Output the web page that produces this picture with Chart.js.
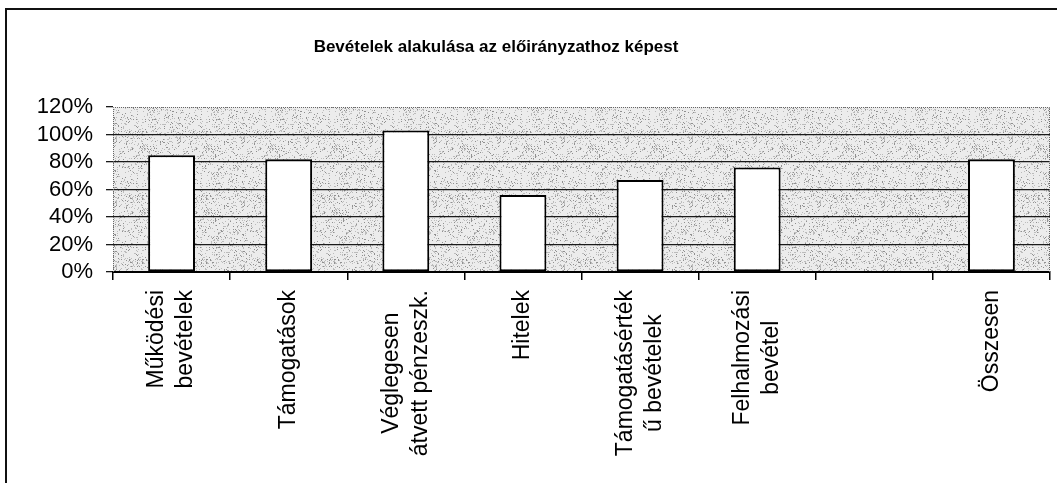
<!DOCTYPE html>
<html>
<head>
<meta charset="utf-8">
<script src="https://cdn.jsdelivr.net/npm/chart.js@4"></script>
<style>
  html, body { margin: 0; padding: 0; background: #fff; }
  #wrap { width: 1061px; height: 483px; }
</style>
</head>
<body>
<div id="wrap"><canvas id="myChart" width="1061" height="483"></canvas></div>
<script>
const chartTitle = "Bevételek alakulása az előirányzathoz képest";
const categories = [
    ["Működési", "bevételek"],
    ["Támogatások"],
    ["Véglegesen", "átvett pénzeszk."],
    ["Hitelek"],
    ["Támogatásérték", "ű bevételek"],
    ["Felhalmozási", "bevétel"],
    [""],
    ["Összesen"]
];
const percentValues = [85, 82, 103, 56, 67, 76, null, 82];
const yTickValues = [0, 20, 40, 60, 80, 100, 120];

const FONT = "'Liberation Sans', Arial, sans-serif";

// stippled grey background like the scanned original
function makePattern() {
    const c = document.createElement("canvas");
    c.width = 64; c.height = 64;
    const g = c.getContext("2d");
    g.fillStyle = "#ececec";
    g.fillRect(0, 0, 64, 64);
    let h = 12345;
    for (let y = 0; y < 64; y++) {
        for (let x = 0; x < 64; x++) {
            h = (h * 1103515245 + 12345) & 0x7fffffff;
            const r = (h >> 8) % 100;
            if (r < 16) {
                g.fillStyle = r < 5 ? "#909090" : "#bcbcbc";
                g.fillRect(x, y, 1, 1);
            }
        }
    }
    return g.createPattern(c, "repeat");
}

const decorations = {
    id: "decorations",
    beforeDraw(chart) {
        const ctx = chart.ctx;
        const a = chart.chartArea;
        ctx.save();
        // outer frame (left and top only visible in the scan)
        ctx.strokeStyle = "#111";
        ctx.lineWidth = 2;
        ctx.beginPath();
        ctx.moveTo(6, 483);
        ctx.lineTo(6, 9);
        ctx.lineTo(1057, 9);
        ctx.stroke();
        // plot background
        ctx.fillStyle = makePattern();
        ctx.fillRect(a.left, a.top, a.right - a.left, a.bottom - a.top);
        ctx.restore();
    },
    afterDraw(chart) {
        const ctx = chart.ctx;
        const a = chart.chartArea;
        const xs = chart.scales.x;
        ctx.save();
        // dotted plot border
        ctx.strokeStyle = "#666";
        ctx.lineWidth = 1;
        ctx.setLineDash([1, 1]);
        ctx.beginPath();
        ctx.moveTo(a.left + 0.5, a.bottom);
        ctx.lineTo(a.left + 0.5, a.top + 0.5);
        ctx.lineTo(a.right - 0.5, a.top + 0.5);
        ctx.lineTo(a.right - 0.5, a.bottom);
        ctx.stroke();
        ctx.setLineDash([]);
        // title
        ctx.fillStyle = "#000";
        ctx.font = "bold 17px " + FONT;
        ctx.textAlign = "center";
        ctx.textBaseline = "middle";
        ctx.fillText(chartTitle, 496, 47);
        // rotated category labels, lines centred on each other
        ctx.font = "23px " + FONT;
        const lineGap = 29;
        const topY = 290;
        categories.forEach((lines, i) => {
            const cx = xs.getPixelForValue(i);
            let maxW = 0;
            lines.forEach(t => { maxW = Math.max(maxW, ctx.measureText(t).width); });
            const cy = topY + maxW / 2;
            lines.forEach((t, j) => {
                const off = (j - (lines.length - 1) / 2) * lineGap;
                ctx.save();
                ctx.translate(cx + off, cy);
                ctx.rotate(-Math.PI / 2);
                ctx.fillText(t, 0, 0);
                ctx.restore();
            });
        });
        ctx.restore();
    }
};

const ctx = document.getElementById("myChart").getContext("2d");
const chart = new Chart(ctx, {
    type: "bar",
    data: {
        labels: categories,
        datasets: [{
            data: percentValues,
            backgroundColor: "#ffffff",
            borderColor: "#000000",
            borderWidth: 2,
            borderSkipped: false,
            barPercentage: 0.4,
            categoryPercentage: 1
        }]
    },
    options: {
        responsive: false,
        animation: false,
        layout: {
            padding: { left: 0, right: 11, top: 107, bottom: 203 }
        },
        scales: {
            x: {
                grid: {
                    offset: true,
                    drawOnChartArea: false,
                    drawTicks: true,
                    tickLength: 8,
                    color: "#000",
                    lineWidth: 1.5
                },
                border: { display: true, color: "#000", width: 2 },
                ticks: { display: false }
            },
            y: {
                min: 0,
                max: 120,
                afterBuildTicks: (scale) => {
                    scale.ticks = yTickValues.map(v => ({ value: v }));
                },
                afterFit: (scale) => { scale.width = 113; },
                grid: {
                    color: (c) => c.tick && c.tick.value === 120 ? "rgba(0,0,0,0)" : "#1a1a1a",
                    lineWidth: 1.3,
                    drawTicks: true,
                    tickLength: 7,
                    tickColor: "#1a1a1a"
                },
                border: { display: false },
                ticks: {
                    color: "#000",
                    padding: 13,
                    autoSkip: false,
                    font: { family: FONT, size: 22, lineHeight: 1 },
                    callback: (v) => v + "%"
                }
            }
        },
        plugins: {
            legend: { display: false },
            title: { display: false },
            tooltip: { enabled: false }
        }
    },
    plugins: [decorations]
});
</script>
</body>
</html>
